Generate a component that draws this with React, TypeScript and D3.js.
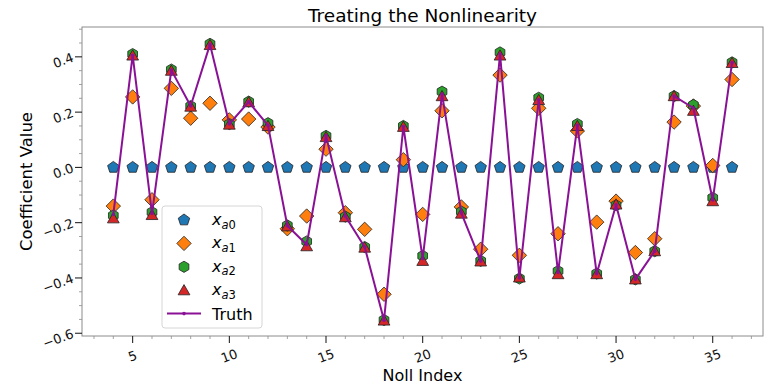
import React from 'react';
import * as d3 from 'd3';

// Noll indices and fitted coefficients
const noll = [4, 5, 6, 7, 8, 9, 10, 11, 12, 13, 14, 15, 16, 17, 18, 19, 20, 21, 22, 23, 24, 25, 26, 27, 28, 29, 30, 31, 32, 33, 34, 35, 36];
const xa0 = [0, 0, 0, 0, 0, 0, 0, 0, 0, 0, 0, 0, 0, 0, 0, 0, 0, 0, 0, 0, 0, 0, 0, 0, 0, 0, 0, 0, 0, 0, 0, 0, 0];
const xa1 = [-0.14, 0.255, -0.117, 0.286, 0.178, 0.232, 0.172, 0.175, 0.146, -0.222, -0.176, 0.066, -0.164, -0.224, -0.459, 0.028, -0.17, 0.205, -0.143, -0.296, 0.334, -0.318, 0.214, -0.24, 0.132, -0.198, -0.122, -0.308, -0.258, 0.164, 0.222, 0.007, 0.318];
const xa2 = [-0.174, 0.41, -0.162, 0.354, 0.222, 0.447, 0.157, 0.238, 0.16, -0.21, -0.268, 0.114, -0.178, -0.288, -0.552, 0.15, -0.32, 0.274, -0.16, -0.338, 0.416, -0.402, 0.252, -0.375, 0.157, -0.384, -0.137, -0.405, -0.303, 0.258, 0.226, -0.11, 0.38];
const xa3 = [-0.184, 0.405, -0.172, 0.35, 0.22, 0.443, 0.155, 0.236, 0.15, -0.213, -0.285, 0.11, -0.18, -0.29, -0.554, 0.147, -0.338, 0.258, -0.167, -0.34, 0.405, -0.398, 0.244, -0.386, 0.15, -0.386, -0.134, -0.405, -0.303, 0.258, 0.205, -0.122, 0.378];
const truth = [-0.17, 0.406, -0.167, 0.352, 0.222, 0.445, 0.157, 0.237, 0.152, -0.211, -0.28, 0.115, -0.177, -0.288, -0.553, 0.148, -0.33, 0.265, -0.165, -0.339, 0.41, -0.4, 0.245, -0.38, 0.152, -0.385, -0.135, -0.405, -0.303, 0.258, 0.215, -0.118, 0.379];

const xTicks = [5, 10, 15, 20, 25, 30, 35];
const yTicks = [-0.6, -0.4, -0.2, 0.0, 0.2, 0.4];

const width = 781, height = 388;
const margin = {top: 27, right: 18, bottom: 52, left: 82};
const font = 'DejaVu Sans, sans-serif';
const truthColor = '#8a1196';

// regular polygon path, first vertex pointing up
function polygon(cx: number, cy: number, r: number, n: number, rot = 0) {
    let pts = d3.range(n).map(i => {
        let a = -Math.PI / 2 + rot + (i * 2 * Math.PI) / n;
        return [cx + r * Math.cos(a), cy + r * Math.sin(a)];
    });
    return 'M' + pts.map(p => p[0].toFixed(2) + ',' + p[1].toFixed(2)).join('L') + 'Z';
}

const markers: {[k: string]: (x: number, y: number) => string} = {
    pentagon: (x, y) => polygon(x, y, 6, 5),
    diamond: (x, y) => polygon(x, y, 7.2, 4),
    hexagon: (x, y) => polygon(x, y, 5.6, 6),
    triangle: (x, y) => polygon(x + 0, y + 1.2, 6.8, 3),
};

const series = [
    {name: 'a0', values: xa0, color: '#1f77b4', marker: 'pentagon'},
    {name: 'a1', values: xa1, color: '#ff7f0e', marker: 'diamond'},
    {name: 'a2', values: xa2, color: '#2ca02c', marker: 'hexagon'},
    {name: 'a3', values: xa3, color: '#d62728', marker: 'triangle'},
];

export default function App() {
    let plotW = width - margin.left - margin.right;
    let plotH = height - margin.top - margin.bottom;

    let scaleX = d3.scaleLinear().domain([2.38, 37.6]).range([margin.left, margin.left + plotW]);
    let scaleY = d3.scaleLinear().domain([-0.61, 0.508]).range([margin.top + plotH, margin.top]);

    let line = d3.line<number>()
        .x((d, i) => scaleX(noll[i]))
        .y(d => scaleY(d));

    let minorX = d3.range(3, 38).filter(v => v % 5 !== 0);
    let minorY = d3.range(-12, 11).map(v => v * 0.05).filter(v => Math.abs(Math.round(v * 20)) % 4 !== 0);

    let bottom = margin.top + plotH;
    let left = margin.left;

    // legend
    let lgX = 162, lgY = 206, lgRow = 23.4;

    return (
        <svg width={width} height={height} style={{position: 'absolute', left: 0, top: 0, background: '#fff'}}
            fontFamily={font}>
            <rect x={0} y={0} width={width} height={height} fill="#fff" />

            {/* markers */}
            {series.map(s => (
                <g key={s.name}>
                    {s.values.map((v, i) => (
                        <path key={i} d={markers[s.marker](scaleX(noll[i]), scaleY(v))}
                            fill={s.color} stroke="#222" strokeWidth={0.8} strokeLinejoin="miter" />
                    ))}
                </g>
            ))}

            {/* truth */}
            <path d={line(truth) || ''} fill="none" stroke={truthColor} strokeWidth={2} strokeLinejoin="round" />
            {truth.map((v, i) => (
                <circle key={i} cx={scaleX(noll[i])} cy={scaleY(v)} r={1.8} fill={truthColor} />
            ))}

            {/* frame */}
            <rect x={margin.left} y={margin.top} width={plotW} height={plotH} fill="none" stroke="#8c8c8c" strokeWidth={1} />

            {/* x axis */}
            {minorX.map(v => (
                <line key={'mx' + v} x1={scaleX(v)} x2={scaleX(v)} y1={bottom} y2={bottom + 3} stroke="#8c8c8c" strokeWidth={0.8} />
            ))}
            {xTicks.map(v => (
                <g key={'x' + v}>
                    <line x1={scaleX(v)} x2={scaleX(v)} y1={bottom} y2={bottom + 7} stroke="#111" strokeWidth={1} />
                    <text x={scaleX(v)} y={bottom + 20} fontSize={13} textAnchor="middle" dominantBaseline="central"
                        transform={`rotate(-20 ${scaleX(v)} ${bottom + 20})`} fill="#111">{v}</text>
                </g>
            ))}

            {/* y axis */}
            {minorY.map(v => (
                <line key={'my' + v} x1={left - 3} x2={left} y1={scaleY(v)} y2={scaleY(v)} stroke="#8c8c8c" strokeWidth={0.8} />
            ))}
            {yTicks.map(v => (
                <g key={'y' + v}>
                    <line x1={left - 7} x2={left} y1={scaleY(v)} y2={scaleY(v)} stroke="#111" strokeWidth={1} />
                    <text x={left - 9} y={scaleY(v)} fontSize={13} textAnchor="end" dominantBaseline="central"
                        transform={`rotate(-20 ${left - 9} ${scaleY(v)})`} fill="#111">
                        {d3.format('.1f')(v).replace('-', '\u2212')}
                    </text>
                </g>
            ))}

            {/* labels */}
            <text x={margin.left + plotW / 2} y={22} fontSize={18.5} textAnchor="middle" fill="#000">Treating the Nonlinearity</text>
            <text x={margin.left + plotW / 2} y={381} fontSize={16} textAnchor="middle" fill="#000">Noll Index</text>
            <text x={0} y={0} fontSize={16.5} textAnchor="middle" fill="#000"
                transform={`translate(32 ${margin.top + plotH / 2}) rotate(-90)`}>Coefficient Value</text>

            {/* legend */}
            <rect x={lgX} y={lgY} width={100} height={122} rx={3} fill="#fff" fillOpacity={0.85} stroke="#d6d6d6" strokeWidth={1} />
            {series.map((s, i) => (
                <g key={'lg' + s.name}>
                    <path d={markers[s.marker](lgX + 22, lgY + 14 + i * lgRow)} fill={s.color} stroke="#222" strokeWidth={0.8} />
                    <text x={lgX + 50} y={lgY + 14 + i * lgRow + 5} fontSize={16} fill="#000">
                        <tspan fontStyle="italic">x</tspan>
                        <tspan fontSize={11.5} dy={3.5} fontStyle="italic">a</tspan>
                        <tspan fontSize={11.5}>{s.name.slice(1)}</tspan>
                    </text>
                </g>
            ))}
            <line x1={lgX + 5} x2={lgX + 39} y1={lgY + 14 + 4 * lgRow} y2={lgY + 14 + 4 * lgRow} stroke={truthColor} strokeWidth={2} />
            <circle cx={lgX + 22} cy={lgY + 14 + 4 * lgRow} r={1.8} fill={truthColor} />
            <text x={lgX + 50} y={lgY + 14 + 4 * lgRow + 6} fontSize={16} fill="#000">Truth</text>
        </svg>
    );
}
